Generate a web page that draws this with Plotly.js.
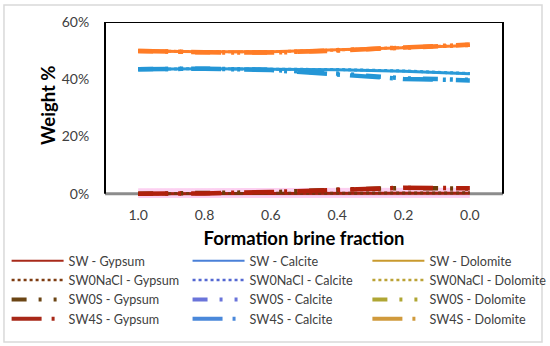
<!DOCTYPE html>
<html>
<head>
<meta charset="utf-8">
<script src="https://cdn.plot.ly/plotly-3.0.1.min.js"></script>
<style>html,body{margin:0;padding:0;background:#fff}#chart{width:550px;height:346px}</style>
</head>
<body>
<div id="chart"></div>
<script>
// ---- data ----
const fractions = ['1.0', '0.8', '0.6', '0.4', '0.2', '0.0'];

const swGypsum        = [0.0, 0.1, 0.1, 0.2, 0.2, 0.2];
const sw0NaClGypsum   = [0.0, 0.1, 0.1, 0.2, 0.3, 0.3];
const sw0sGypsum      = [0.0, 0.1, 0.5, 1.4, 2.0, 1.8];
const sw4sGypsum      = [0.0, 0.1, 0.6, 1.5, 2.1, 1.9];

const swCalcite       = [43.5, 43.7, 43.5, 43.3, 42.8, 41.9];
const sw0NaClCalcite  = [43.5, 43.7, 43.5, 43.4, 42.9, 42.0];
const sw0sCalcite     = [43.5, 43.7, 43.3, 42.0, 40.3, 39.8];
const sw4sCalcite     = [43.5, 43.7, 43.2, 41.8, 40.1, 39.6];

const swDolomite      = [49.9, 49.6, 49.6, 50.2, 51.0, 51.8];
const sw0NaClDolomite = [49.9, 49.6, 49.6, 50.2, 51.1, 51.9];
const sw0sDolomite    = [49.9, 49.4, 49.3, 50.0, 51.0, 52.0];
const sw4sDolomite    = [49.9, 49.4, 49.3, 50.0, 51.1, 52.1];

const seriesNames = [
  'SW - Gypsum', 'SW - Calcite', 'SW - Dolomite',
  'SW0NaCl - Gypsum', 'SW0NaCl - Calcite', 'SW0NaCl - Dolomite',
  'SW0S - Gypsum', 'SW0S - Calcite', 'SW0S - Dolomite',
  'SW4S - Gypsum', 'SW4S - Calcite', 'SW4S - Dolomite'
];
const seriesValues = [
  swGypsum, swCalcite, swDolomite,
  sw0NaClGypsum, sw0NaClCalcite, sw0NaClDolomite,
  sw0sGypsum, sw0sCalcite, sw0sDolomite,
  sw4sGypsum, sw4sCalcite, sw4sDolomite
];

// ---- styles ----
const plotColors = {
  Gypsum:   ['#A3220F', '#7A3410', '#6E3C0A', '#B0200C'],
  Calcite:  ['#2A9AD8', '#2A9AD8', '#2496D6', '#2496D6'],
  Dolomite: ['#FF7F2A', '#FF7F2A', '#FF7C26', '#FF7C26']
};
const legendColors = [
  '#A82A1A', '#4A80D8', '#C99A2E',
  '#7E3C12', '#5468D2', '#BBA236',
  '#6B4514', '#6A74DA', '#AFA633',
  '#A82818', '#4A88DA', '#D09A3C'
];
const dashes = ['solid', 'dot', '15px,12px,3px,12px,3px,12px', '30px,10px,3px,10px'];
const plotWidths = [3, 3, 4.5, 4.5];
const legendWidths = [2, 2.5, 4, 4];
const minerals = ['Gypsum', 'Calcite', 'Dolomite'];
const legendIds = ['legend', 'legend2', 'legend3'];

const traces = [];
// soft glow behind SW - Gypsum
traces.push({
  type: 'scatter', mode: 'lines', x: fractions, y: swGypsum,
  line: {color: 'rgba(250,170,230,0.55)', width: 11},
  showlegend: false, hoverinfo: 'skip'
});
seriesNames.forEach((name, i) => {
  const row = Math.floor(i / 3), col = i % 3;
  traces.push({
    type: 'scatter', mode: 'lines', x: fractions, y: seriesValues[i],
    name: name, showlegend: false,
    line: {color: plotColors[minerals[col]][row], width: plotWidths[row], dash: dashes[row]}
  });
});
// legend entries (one legend per column)
seriesNames.forEach((name, i) => {
  const row = Math.floor(i / 3), col = i % 3;
  traces.push({
    type: 'scatter', mode: 'lines', x: [null], y: [null],
    name: name, showlegend: true, legend: legendIds[col],
    line: {color: legendColors[i], width: legendWidths[row], dash: dashes[row]}
  });
});

const fontFam = 'Lato, "Open Sans", sans-serif';
function legendAt(x) {
  return {
    orientation: 'v', xref: 'container', yref: 'container', x: x, y: 0.289,
    xanchor: 'left', yanchor: 'top', itemwidth: 52, tracegroupgap: 0,
    font: {size: 12.6, color: '#404040', family: fontFam}, bgcolor: 'rgba(0,0,0,0)'
  };
}
const layout = {
  width: 550, height: 346,
  margin: {l: 105, r: 47, t: 22, b: 148, autoexpand: false},
  paper_bgcolor: '#fff', plot_bgcolor: '#fff',
  font: {family: fontFam, color: '#404040', size: 14},
  showlegend: true,
  xaxis: {
    type: 'category', range: [-0.5, 5.5], showgrid: false, zeroline: false,
    showline: false, ticks: 'outside', ticklen: 4, tickcolor: 'rgba(0,0,0,0)',
    tickfont: {size: 14, color: '#404040'},
    title: {text: '<b>Formation brine fraction</b>', font: {size: 18.5, color: '#000'}, standoff: 10}
  },
  yaxis: {
    range: [-1.5, 60], tickvals: [0, 20, 40, 60], ticktext: ['0%', '20%', '40%', '60%'],
    showgrid: false, zeroline: false, showline: false, ticks: 'outside', ticklen: 12,
    tickcolor: 'rgba(0,0,0,0)', tickfont: {size: 14, color: '#404040'}
  },
  annotations: [
    {text: '<b>Weight %</b>', textangle: -90, xref: 'paper', yref: 'paper',
     x: 0, xanchor: 'center', xshift: -57, y: (198 - 105) / 176, yanchor: 'middle',
     showarrow: false, font: {size: 18.5, color: '#000', family: fontFam}}
  ],
  legend: legendAt(0.012),
  legend2: legendAt(0.341),
  legend3: legendAt(0.668),
  shapes: [
    {type: 'line', xref: 'paper', yref: 'y', x0: 0, x1: 1, y0: 0, y1: 0, layer: 'below',
     line: {color: '#8C8C8C', width: 3}},
    {type: 'line', xref: 'paper', yref: 'y', x0: 0, x1: 1, y0: 60, y1: 60,
     line: {color: '#000', width: 2}},
    {type: 'line', xref: 'paper', yref: 'y', x0: 0, x1: 0, y0: 0, y1: 60,
     line: {color: '#000', width: 2}},
    {type: 'line', xref: 'paper', yref: 'y', x0: 1, x1: 1, y0: 0, y1: 60,
     line: {color: '#000', width: 2}},
    {type: 'rect', xref: 'paper', yref: 'paper', x0: -0.2538, x1: 1.098, y0: -0.818, y1: 1.0966,
     line: {color: '#D9D9D9', width: 1.5}}
  ]
};

Plotly.newPlot('chart', traces, layout, {displayModeBar: false, staticPlot: true});
</script>
</body>
</html>
